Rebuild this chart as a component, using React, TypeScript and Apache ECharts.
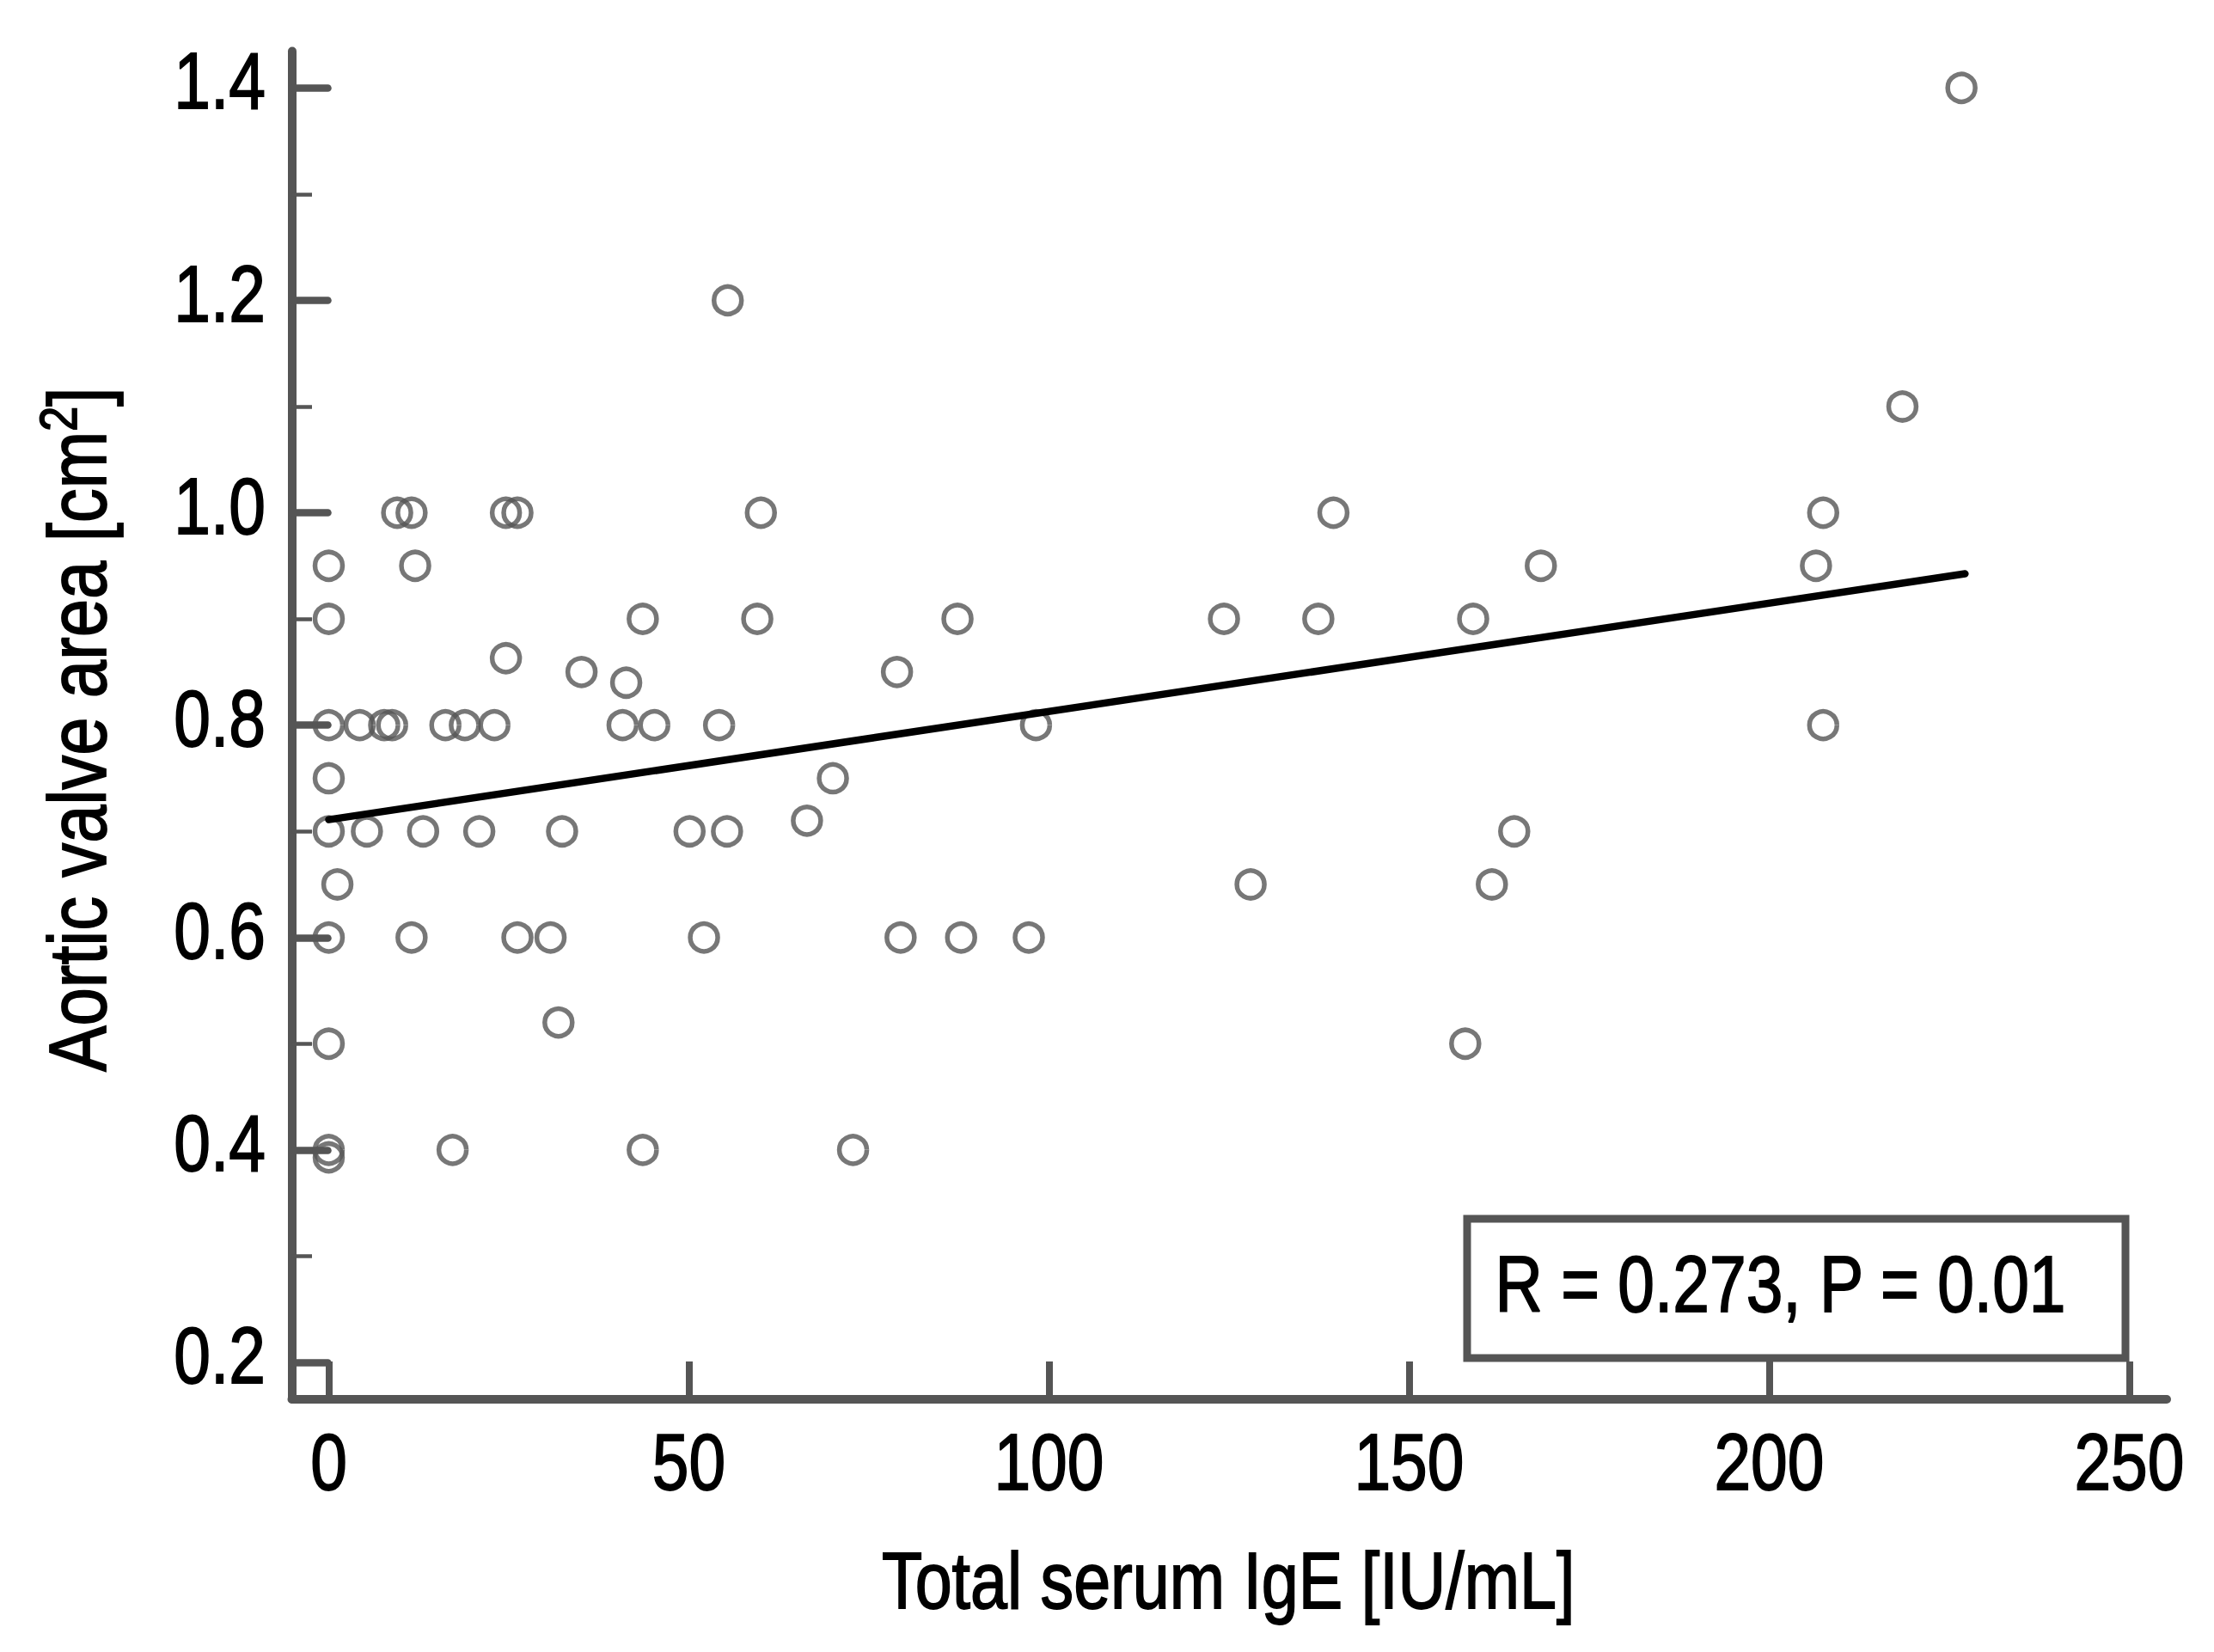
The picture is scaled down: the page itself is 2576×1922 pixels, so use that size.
import React, { useEffect, useRef } from "react";
import * as echarts from "echarts";

// Data
const igeValues = [
  0, 0, 0, 0, 0, 0, 0, 0, 0, 1.2,
  4.3, 5.3, 7.7, 8.8, 9.5, 11.5, 12.0, 11.5, 13.1, 16.2,
  17.2, 18.9, 20.9, 23.0, 24.6, 26.2, 24.6, 26.2, 30.8, 31.9,
  32.4, 35.1, 40.8, 41.3, 43.6, 43.6, 45.2, 50.1, 52.1, 54.2,
  55.4, 55.3, 59.5, 60.0, 66.4, 70.0, 72.8, 78.9, 79.4, 87.3,
  87.8, 97.2, 98.2, 124.3, 128.0, 137.4, 139.5, 157.8, 158.9, 161.5,
  164.6, 168.3, 206.5, 207.5, 207.5, 218.5, 226.7,
];
const avaValues = [
  0.95, 0.9, 0.8, 0.75, 0.7, 0.6, 0.5, 0.4, 0.393, 0.65,
  0.8, 0.7, 0.8, 0.8, 1.0, 1.0, 0.95, 0.6, 0.7, 0.8,
  0.4, 0.8, 0.7, 0.8, 1.0, 1.0, 0.863, 0.6, 0.6, 0.52,
  0.7, 0.85, 0.8, 0.84, 0.9, 0.4, 0.8, 0.7, 0.6, 0.8,
  1.2, 0.7, 0.9, 1.0, 0.71, 0.75, 0.4, 0.85, 0.6, 0.9,
  0.6, 0.6, 0.8, 0.9, 0.65, 0.9, 1.0, 0.5, 0.9, 0.65,
  0.7, 0.95, 0.95, 1.0, 0.8, 1.1, 1.4,
];
const fitX = [0, 227.2];
const fitY = [0.711, 0.9425];

const xTicks = [0, 50, 100, 150, 200, 250];
const yTicks = [0.2, 0.4, 0.6, 0.8, 1.0, 1.2, 1.4];
const yMinorTicks = [0.3, 0.5, 0.7, 0.9, 1.1, 1.3];

const xTitle = "Total serum IgE [IU/mL]";
const yTitleMain = "Aortic valve area [cm";
const yTitleSup = "2";
const yTitleEnd = "]";
const statText = "R = 0.273, P = 0.01";

const FONT = "'Liberation Sans', Arial, sans-serif";
const NARROW = 0.825;
const FS = 93;
const AXIS = "#555555";
const INK = 1.8;

export default function App() {
  const ref = useRef<HTMLDivElement>(null);

  useEffect(() => {
    if (!ref.current) return;
    const chart = echarts.init(ref.current, undefined, { renderer: "svg" });
    const xMin = -5.13;
    const xMax = 255.2;
    const yMin = 0.1652;
    const yMax = 1.4346;

    const option: any = {
      animation: false,
      backgroundColor: "#ffffff",
      grid: { left: 339.5, top: 59.5, right: 55, bottom: 294, containLabel: false },
      xAxis: {
        type: "value",
        min: xMin,
        max: xMax,
        splitLine: { show: false },
        axisLine: { show: true, onZero: false, lineStyle: { color: AXIS, width: 10, cap: "round" } },
        axisTick: {
          show: true,
          inside: true,
          length: 44,
          customValues: xTicks,
          lineStyle: { color: AXIS, width: 8 },
        },
        axisLabel: { show: false },
      },
      yAxis: [
        {
          type: "value",
          min: yMin,
          max: yMax,
          splitLine: { show: false },
          axisLine: { show: true, onZero: false, lineStyle: { color: AXIS, width: 10, cap: "round" } },
          axisTick: {
            show: true,
            inside: true,
            length: 42,
            customValues: yTicks,
            lineStyle: { color: AXIS, width: 8.5, cap: "round" },
          },
          axisLabel: { show: false },
        },
        {
          type: "value",
          min: yMin,
          max: yMax,
          position: "left",
          splitLine: { show: false },
          axisLine: { show: false, onZero: false },
          axisTick: {
            show: true,
            inside: true,
            length: 23.5,
            customValues: yMinorTicks,
            lineStyle: { color: AXIS, width: 4.5 },
          },
          axisLabel: { show: false },
        },
      ],
      series: [
        {
          type: "scatter",
          data: igeValues.map((x, i) => [x, avaValues[i]]),
          symbol: "circle",
          symbolSize: 32,
          itemStyle: { color: "rgba(255,255,255,0)", borderColor: AXIS, borderWidth: 5.5 },
          z: 3,
        },
        {
          type: "line",
          data: fitX.map((x, i) => [x, fitY[i]]),
          symbol: "none",
          lineStyle: { color: "#000", width: 8.5, cap: "round" },
          z: 4,
        },
      ],
    };
    chart.setOption(option);

    const xPx = (v: number) => chart.convertToPixel({ xAxisIndex: 0 }, v) as number;
    const yPx = (v: number) => chart.convertToPixel({ yAxisIndex: 0 }, v) as number;
    const axisX = xPx(xMin);
    const axisY = yPx(yMin);
    const topY = yPx(yMax);
    const rightX = xPx(xMax);

    const txt = (text: string, x: number, y: number, align: string, sx = NARROW, fs = FS) => ({
      type: "text",
      x,
      y,
      scaleX: sx,
      silent: true,
      style: {
        text,
        fontSize: fs,
        fontFamily: FONT,
        fill: "#000",
        stroke: "#000",
        lineWidth: INK,
        align,
        verticalAlign: "middle",
      },
    });

    const graphics: any[] = [];
    yTicks.forEach((v) => graphics.push(txt(v.toFixed(1), axisX - 30.5, yPx(v) - 8, "right")));
    xTicks.forEach((v) => graphics.push(txt(String(v), xPx(v), axisY + 73, "center")));
    graphics.push(txt(xTitle, (axisX + rightX) / 2 - 1, axisY + 211, "center", 0.83));
    graphics.push({
      type: "text",
      x: 87,
      y: (axisY + topY) / 2 + 5,
      rotation: Math.PI / 2,
      scaleX: 0.84,
      silent: true,
      style: {
        text: "{m|" + yTitleMain + "}{s|" + yTitleSup + "}{m|" + yTitleEnd + "}",
        align: "center",
        verticalAlign: "middle",
        fontFamily: FONT,
        fill: "#000",
        rich: {
          m: { fontSize: 95, fontFamily: FONT, fill: "#000", stroke: "#000", lineWidth: INK, lineHeight: 102, verticalAlign: "bottom" },
          s: { fontSize: 62, fontFamily: FONT, fill: "#000", stroke: "#000", lineWidth: INK, lineHeight: 102, verticalAlign: "top" },
        },
      },
    });
    // statistics box
    graphics.push({
      type: "rect",
      silent: true,
      shape: { x: 1707, y: 1418, width: 2473 - 1707, height: 1580 - 1418 },
      style: { fill: "none", stroke: AXIS, lineWidth: 9 },
    });
    graphics.push(txt(statText, 1739.5, 1494, "left"));

    chart.setOption({ graphic: graphics });
    return () => chart.dispose();
  }, []);

  return (
    <div
      ref={ref}
      style={{ position: "absolute", left: 0, top: 0, width: 2576, height: 1922, background: "#fff" }}
    />
  );
}
